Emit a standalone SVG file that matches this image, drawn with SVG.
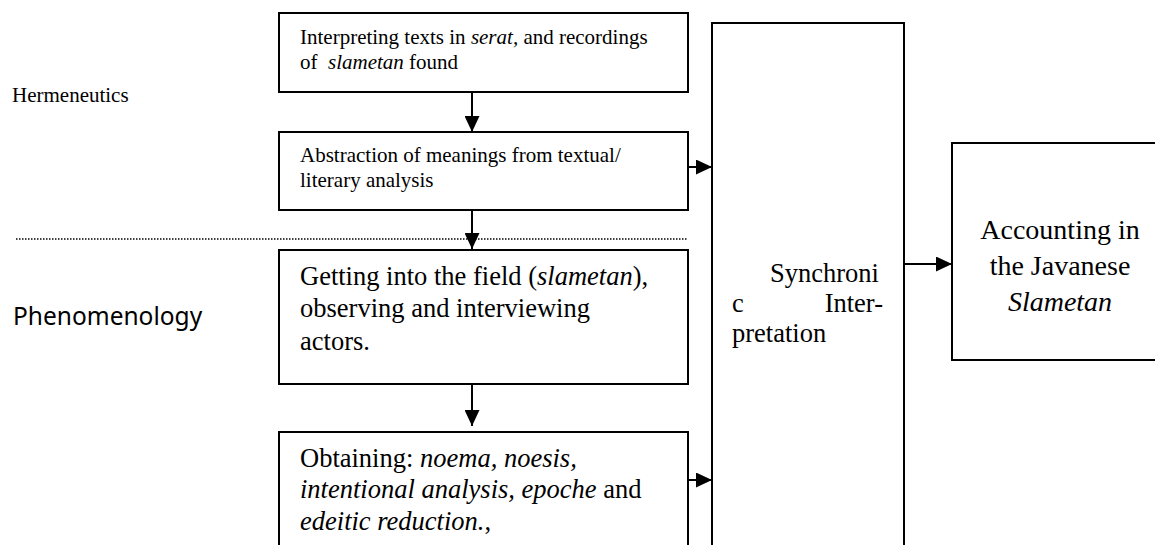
<svg xmlns="http://www.w3.org/2000/svg" width="1155" height="545" viewBox="0 0 1155 545">
<style>
.box{fill:#fff;stroke:#000;stroke-width:2}
.t{fill:#000}
.s{font-size:21px}
.m{font-size:26.5px}
.l{font-size:28px}
.con{stroke:#000;stroke-width:2;fill:none;marker-end:url(#ah)}
.sans{font-family:"Noto Sans","Open Sans",sans-serif;font-size:24.5px;fill:#000}
</style>
<defs>
<marker id="ah" markerUnits="userSpaceOnUse" markerWidth="16" markerHeight="15" refX="16" refY="7.5" orient="auto">
<path d="M0,0 L16,7.5 L0,15 z" fill="#000"/>
</marker>
</defs>
<rect width="1155" height="545" fill="#fff"/>
<g font-family="Liberation Serif, serif">
<text class="t s" x="12" y="102">Hermeneutics</text>
</g>
<text class="sans" x="13" y="325">Phenomenology</text>
<line x1="16" y1="239" x2="688" y2="239" stroke="#000" stroke-width="1.5" stroke-dasharray="1.5 1.5"/>
<g font-family="Liberation Serif, serif">
<g id="n1">
<rect class="box" x="279" y="13" width="409" height="79"/>
<text class="t s" x="300" y="44">Interpreting texts in <tspan font-style="italic">serat,</tspan> and recordings</text>
<text class="t s" x="300" y="69">of&#160; <tspan font-style="italic">slametan</tspan> found</text>
</g>
<g id="n2">
<rect class="box" x="279" y="132" width="409" height="78"/>
<text class="t s" x="300" y="162">Abstraction of meanings from textual/</text>
<text class="t s" x="300" y="187">literary analysis</text>
</g>
<g id="n3">
<rect class="box" x="279" y="250" width="409" height="134"/>
<text class="t m" x="300" y="285">Getting into the field (<tspan font-style="italic">slametan</tspan>),</text>
<text class="t m" x="300" y="317">observing and interviewing</text>
<text class="t m" x="300" y="350">actors.</text>
</g>
<g id="n4">
<rect class="box" x="279" y="432" width="409" height="130"/>
<text class="t m" x="300" y="467">Obtaining: <tspan font-style="italic">noema, noesis,</tspan></text>
<text class="t m" x="300" y="498"><tspan font-style="italic">intentional analysis, epoche</tspan> and</text>
<text class="t m" x="300" y="530"><tspan font-style="italic">edeitic reduction.</tspan>,</text>
</g>
<g id="n5">
<rect class="box" x="712" y="23" width="192" height="540"/>
<text class="t m" x="770" y="282">Synchroni</text>
<text class="t m" x="732" y="312">c</text>
<text class="t m" x="883" y="312" text-anchor="end">Inter-</text>
<text class="t m" x="732" y="342">pretation</text>
</g>
<g id="n6">
<rect class="box" x="952" y="143" width="215" height="217"/>
<text class="t l" x="1060" y="239" text-anchor="middle">Accounting in</text>
<text class="t l" x="1060" y="275" text-anchor="middle">the Javanese</text>
<text class="t l" x="1060" y="311" text-anchor="middle" font-style="italic">Slametan</text>
</g>
</g>
<g id="connectors">
<line class="con" x1="472" y1="92" x2="472" y2="132"/>
<line class="con" x1="472" y1="210" x2="472" y2="249"/>
<line class="con" x1="472" y1="384" x2="472" y2="426"/>
<line class="con" x1="688" y1="167" x2="712" y2="167"/>
<line class="con" x1="688" y1="480" x2="712" y2="480"/>
<line class="con" x1="904" y1="264" x2="952" y2="264"/>
</g>
</svg>
